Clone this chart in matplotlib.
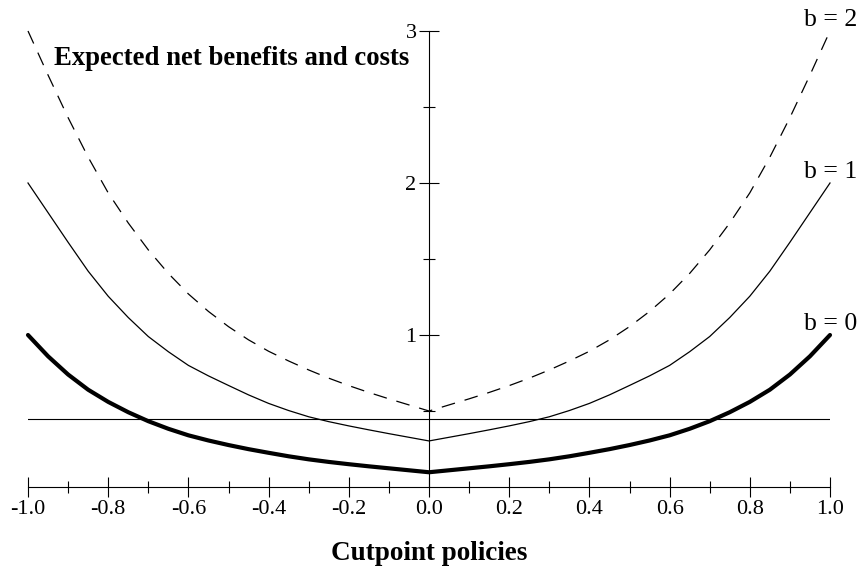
import numpy as np
import matplotlib
matplotlib.use("Agg")
import matplotlib.pyplot as plt

plt.rcParams['font.family'] = ['Liberation Serif', 'DejaVu Serif']
plt.rcParams['axes.unicode_minus'] = False

x_half = [0.0, 0.05, 0.1, 0.15, 0.2, 0.25, 0.3, 0.35, 0.4, 0.45, 0.5,
          0.55, 0.6, 0.65, 0.7, 0.75, 0.8, 0.85, 0.9, 0.95, 1.0]
b0_half = [0.097, 0.110, 0.123, 0.136, 0.150, 0.165, 0.182, 0.202, 0.225, 0.249, 0.276,
           0.306, 0.340, 0.383, 0.433, 0.492, 0.560, 0.640, 0.740, 0.860, 1.0]
b1_half = [0.303, 0.327, 0.351, 0.376, 0.402, 0.430, 0.462, 0.503, 0.550, 0.606, 0.668,
           0.731, 0.800, 0.890, 0.990, 1.115, 1.255, 1.420, 1.610, 1.805, 2.0]
b2_half = [0.500, 0.540, 0.580, 0.622, 0.667, 0.716, 0.770, 0.829, 0.893, 0.968, 1.055,
           1.155, 1.270, 1.405, 1.560, 1.737, 1.935, 2.170, 2.430, 2.710, 3.0]
ref_level = 0.447

xticks = [-1.0, -0.8, -0.6, -0.4, -0.2, 0.0, 0.2, 0.4, 0.6, 0.8, 1.0]
xtick_labels = ['-1.0', '-0.8', '-0.6', '-0.4', '-0.2', '0.0', '0.2', '0.4', '0.6', '0.8', '1.0']
yticks = [1, 2, 3]


def mirror(xs, ys):
    xs = np.array(xs); ys = np.array(ys)
    return np.concatenate([-xs[::-1], xs[1:]]), np.concatenate([ys[::-1], ys[1:]])


x, b0 = mirror(x_half, b0_half)
_, b1 = mirror(x_half, b1_half)
_, b2 = mirror(x_half, b2_half)

fig = plt.figure(figsize=(8.62, 5.67), dpi=100)
ax = fig.add_axes([28/862, 1-487/567, (830-28)/862, (487-31)/567])
ax.set_xlim(-1, 1)
ax.set_ylim(0, 3)

ax.plot(x, b0, color='black', lw=3.0, solid_capstyle='round', solid_joinstyle='round', clip_on=False)
ax.plot(x, b1, color='black', lw=0.9, solid_joinstyle='round', clip_on=False)
l2, = ax.plot(x, b2, color='black', lw=0.9, clip_on=False)
l2.set_dashes((11, 8))
ax.plot([-1, 1], [ref_level, ref_level], color='black', lw=0.8)

# axes like the original: y axis through x = 0
for s in ['top', 'right']:
    ax.spines[s].set_visible(False)
ax.spines['left'].set_position(('data', 0))
ax.spines['left'].set_bounds(0, 3)
ax.spines['left'].set_linewidth(0.8)
ax.spines['bottom'].set_linewidth(0.8)

ax.set_xticks(xticks)
ax.set_xticklabels(xtick_labels)
ax.set_xticks(np.arange(-0.9, 1.0, 0.2), minor=True)
ax.set_yticks(yticks)
ax.set_yticklabels([str(v) for v in yticks])
ax.set_yticks([0.5, 1.5, 2.5], minor=True)
ax.tick_params(axis='both', which='major', direction='inout', length=14, width=0.8, labelsize=16)
ax.tick_params(axis='both', which='minor', direction='inout', length=8, width=0.8)
ax.tick_params(axis='x', which='major', pad=2)
ax.tick_params(axis='y', which='major', pad=2)

ax.text(-0.935, 2.82, 'Expected net benefits and costs', fontsize=19.3, fontweight='bold', va='center', ha='left')
ax.text(1.068, 3.07, 'b = 2', fontsize=18.5, ha='right', va='center')
ax.text(1.068, 2.07, 'b = 1', fontsize=18.5, ha='right', va='center')
ax.text(1.068, 1.07, 'b = 0', fontsize=18.5, ha='right', va='center')

fig.text(429/862, 1-553/567, 'Cutpoint policies', fontsize=19.5, fontweight='bold', ha='center', va='center')

fig.savefig('out.png', dpi=100)
